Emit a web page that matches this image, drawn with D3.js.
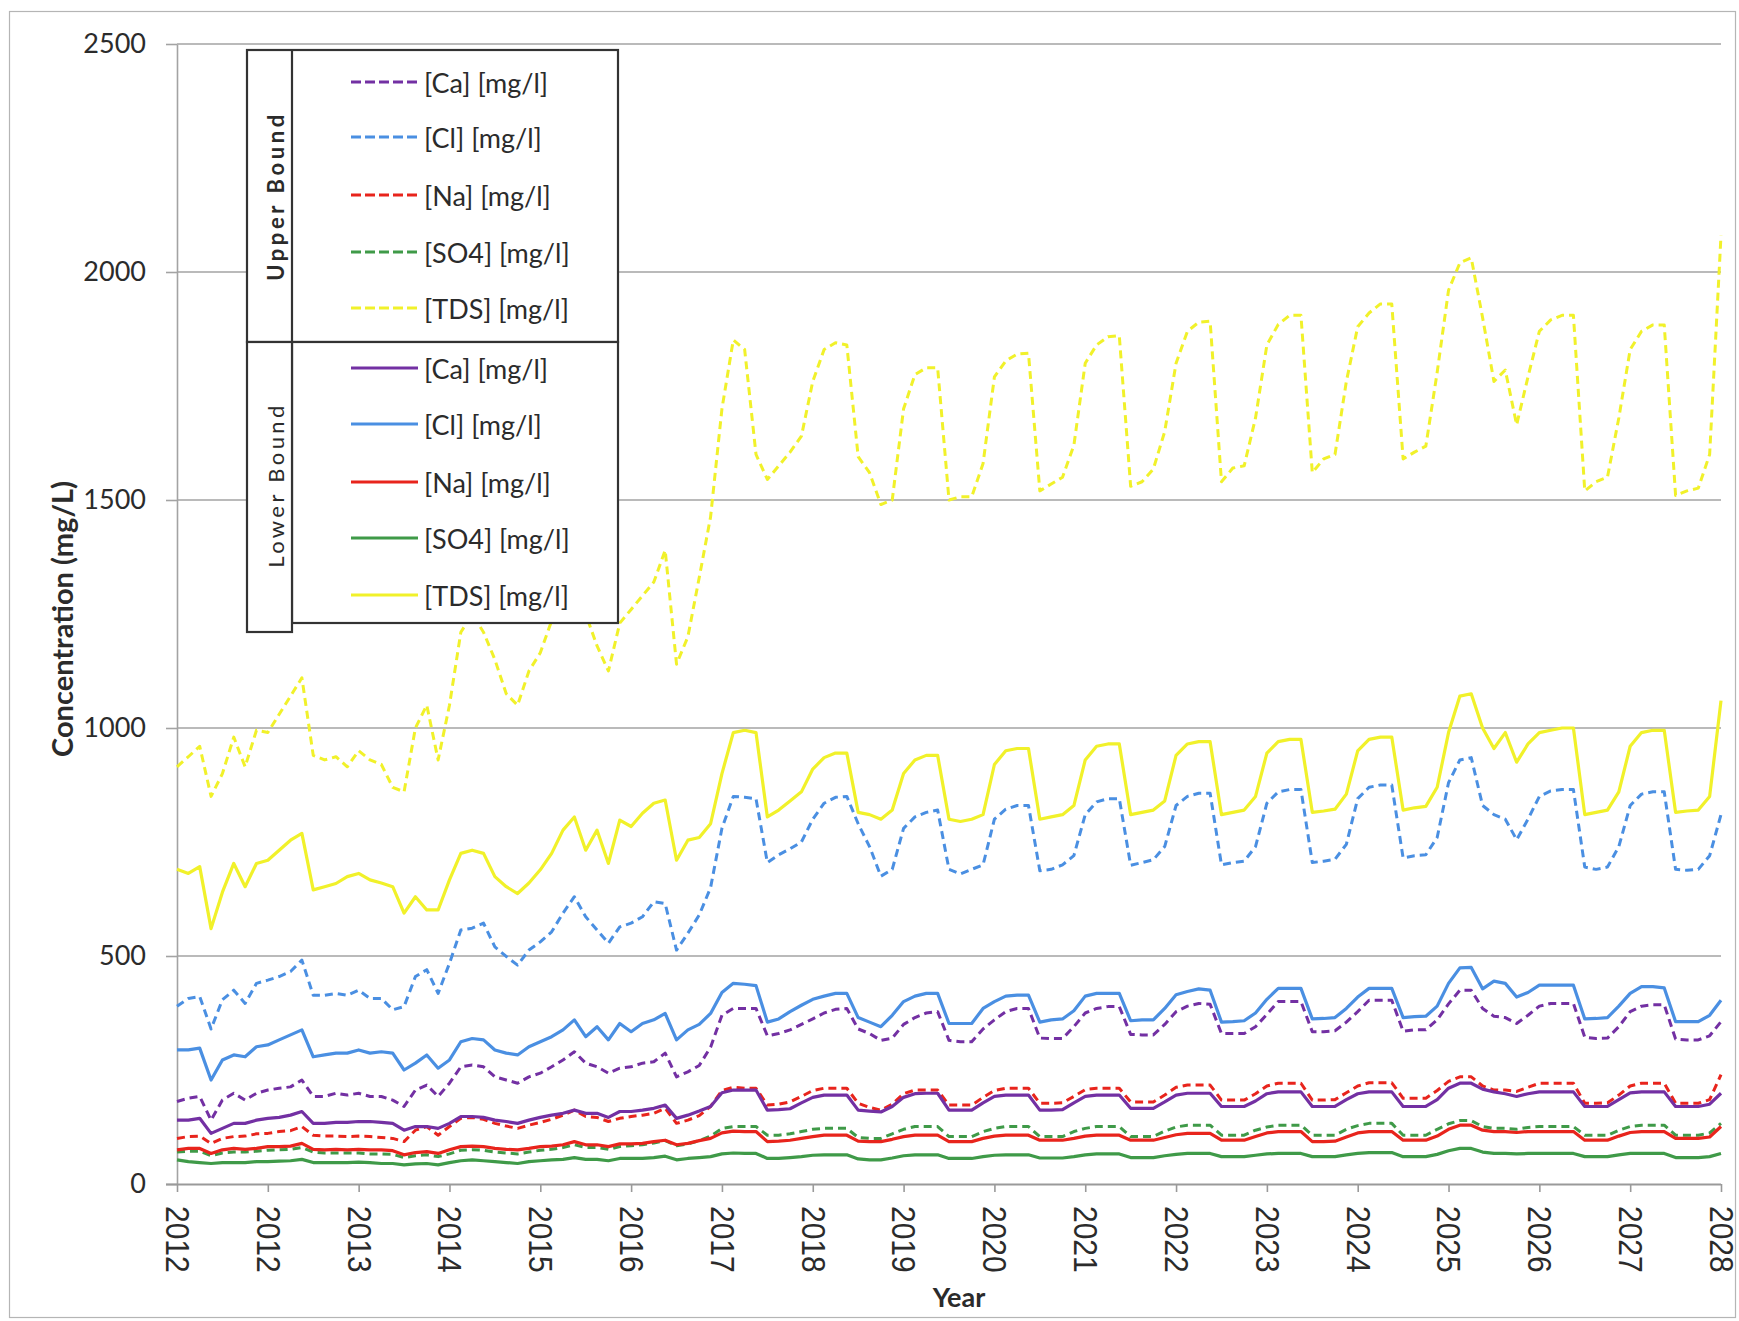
<!DOCTYPE html>
<html><head><meta charset="utf-8">
<script src="https://cdn.jsdelivr.net/npm/d3@7"></script>
<style>body{margin:0;background:#fff}svg{display:block}</style>
</head><body>
<svg id="c" width="1739" height="1321"></svg>
<script>
// ---- data ----
const tickLabels = ["2012","2012","2013","2014","2015","2016","2017","2018","2019","2020","2021","2022","2023","2024","2025","2026","2027","2028"];
const yTicks = [0, 500, 1000, 1500, 2000, 2500];
// sample positions in axis units (one unit per tick), 8 samples per unit
const t = d3.range(137).map(i => i / 8);

const tdsUpper = [
 915,937,960,850,900,980,915,995,
 990,1030,1070,1110,940,930,937,915,
 950,930,920,870,860,1000,1050,930,
 1050,1210,1250,1210,1150,1075,1050,1125,
 1165,1235,1260,1280,1250,1180,1125,1230,
 1260,1290,1320,1390,1140,1200,1330,1463,
 1700,1851,1830,1600,1545,1575,1605,1640,
 1760,1830,1845,1840,1595,1560,1490,1500,
 1700,1775,1790,1790,1500,1507,1507,1580,
 1770,1805,1820,1822,1520,1535,1550,1620,
 1800,1840,1858,1860,1530,1540,1568,1650,
 1800,1870,1890,1892,1540,1570,1575,1680,
 1840,1885,1905,1905,1560,1590,1600,1760,
 1880,1910,1930,1930,1590,1605,1618,1780,
 1960,2020,2031,1900,1760,1785,1665,1770,
 1870,1895,1905,1905,1520,1540,1550,1680,
 1830,1870,1884,1884,1510,1520,1526,1600,
 2080];
const tdsLower = [
 690,681,696,560,640,703,652,703,
 710,732,754,769,645,652,659,674,
 681,667,660,652,594,630,601,601,
 667,725,732,725,674,652,637,660,
 689,725,776,805,732,776,703,798,
 784,813,835,842,710,754,760,790,
 900,990,995,990,805,820,840,860,
 910,935,945,945,815,810,800,820,
 900,930,940,940,800,795,800,810,
 920,950,955,955,800,805,810,830,
 930,960,965,965,810,815,820,840,
 940,965,970,970,810,815,820,850,
 945,970,975,975,815,818,822,855,
 950,975,980,980,820,825,828,870,
 990,1070,1075,1000,955,990,925,965,
 990,995,1000,1000,810,815,820,860,
 960,990,995,995,815,818,820,850,
 1060];
const clUpper = [
 390,407,411,340,404,425,396,440,
 447,455,466,491,414,414,418,414,
 425,407,407,382,389,455,470,418,
 484,557,561,572,520,499,480,513,
 531,553,594,630,586,557,528,564,
 572,586,619,615,513,550,590,650,
 780,850,848,845,705,722,735,750,
 800,835,848,850,790,740,675,690,
 780,805,815,820,690,680,690,700,
 800,822,830,830,687,690,700,720,
 810,838,845,845,699,705,711,740,
 830,850,857,857,700,705,708,740,
 835,860,865,865,705,708,712,745,
 845,870,875,875,715,720,722,760,
 880,930,935,830,810,800,755,800,
 850,862,865,865,695,690,695,740,
 830,855,860,860,690,688,690,720,
 810];
const clLower = [
 294,294,298,228,272,283,279,301,
 305,316,327,338,279,283,287,287,
 294,287,290,287,250,265,283,254,
 272,312,319,316,294,287,283,301,
 312,323,338,360,323,345,316,352,
 334,352,360,374,316,338,350,374,
 420,440,438,435,355,362,378,392,
 405,412,418,418,365,355,345,370,
 400,412,418,418,352,352,352,385,
 400,412,414,414,355,360,362,380,
 412,418,418,418,358,360,360,385,
 415,422,428,425,355,356,358,375,
 405,429,429,429,362,363,365,385,
 410,429,429,429,365,367,368,390,
 440,474,475,428,445,440,410,420,
 436,436,436,436,362,363,365,390,
 418,433,433,430,356,356,356,370,
 403];
const caUpper = [
 181,188,192,140,184,199,184,199,
 206,210,213,228,192,192,199,195,
 199,192,192,184,170,206,217,192,
 221,257,261,257,235,228,221,235,
 243,257,272,290,265,257,243,254,
 257,265,268,287,235,246,260,300,
 370,385,385,385,325,330,338,350,
 362,375,383,385,340,330,315,320,
 350,365,375,378,315,312,312,340,
 360,378,385,385,320,319,319,345,
 375,385,389,389,328,327,327,350,
 378,390,396,394,330,330,330,345,
 372,400,400,400,334,334,336,355,
 378,403,403,403,335,338,338,360,
 395,425,425,385,368,365,352,370,
 390,396,396,396,322,319,320,345,
 378,390,393,393,318,316,316,325,
 356];
const caLower = [
 140,140,144,111,122,133,133,140,
 144,146,151,159,133,133,135,135,
 137,137,135,133,118,126,126,122,
 133,148,148,146,140,137,133,140,
 146,151,155,162,155,155,146,159,
 159,162,166,173,144,151,160,170,
 200,206,206,206,162,163,165,178,
 190,195,195,195,162,160,158,170,
 190,198,199,199,162,162,162,178,
 192,195,195,195,162,162,163,178,
 192,195,195,195,166,166,166,180,
 195,199,199,199,170,170,170,182,
 198,202,202,202,170,170,170,185,
 198,202,202,202,170,170,170,185,
 210,221,221,208,202,198,192,198,
 202,202,202,202,170,170,170,185,
 200,202,202,202,170,170,170,175,
 199];
const naUpper = [
 100,104,105,89,100,104,105,110,
 111,115,117,126,107,105,105,104,
 105,104,102,100,93,118,126,107,
 126,144,146,142,133,127,122,129,
 135,142,151,162,148,146,137,144,
 148,151,155,166,133,140,150,170,
 205,212,210,210,173,175,180,192,
 205,210,210,210,177,168,162,175,
 198,206,206,206,173,173,173,190,
 205,210,210,210,177,177,178,192,
 207,210,210,210,180,180,180,195,
 212,217,217,217,184,184,184,198,
 215,221,221,221,184,184,185,200,
 215,222,222,222,188,188,188,205,
 225,235,235,215,206,206,203,212,
 221,221,221,221,177,177,178,195,
 215,221,221,221,177,177,177,185,
 240];
const naLower = [
 75,78,78,67,75,78,76,78,
 82,82,83,89,76,75,76,75,
 76,75,75,73,64,69,71,67,
 75,82,83,82,78,76,75,78,
 82,83,86,93,86,86,82,88,
 88,89,93,96,86,89,95,100,
 112,116,115,115,93,94,96,100,
 104,107,107,107,94,93,93,98,
 104,107,107,107,93,93,93,100,
 105,107,107,107,96,96,96,100,
 105,107,107,107,96,96,96,102,
 108,111,111,111,96,96,96,104,
 112,115,115,115,93,93,94,103,
 112,115,115,115,96,96,96,105,
 120,129,129,118,115,115,113,115,
 115,115,115,115,96,96,96,105,
 113,115,115,115,100,100,100,103,
 126];
const so4Upper = [
 70,72,72,62,68,70,70,72,
 74,75,76,80,70,68,68,68,
 68,66,66,65,58,62,64,60,
 66,74,75,74,70,68,66,70,
 74,76,80,86,80,80,76,82,
 84,86,90,95,84,88,95,105,
 122,126,126,126,107,107,110,115,
 120,122,122,122,102,100,100,110,
 120,126,126,126,104,104,104,115,
 122,126,126,126,104,104,104,115,
 122,126,126,126,104,104,104,116,
 125,129,129,129,107,107,107,118,
 125,129,129,129,107,107,107,120,
 128,133,133,133,107,107,107,120,
 132,139,139,126,122,122,120,124,
 126,126,126,126,107,107,107,118,
 126,129,129,129,107,107,107,112,
 133];
const so4Lower = [
 53,49,47,45,47,47,47,49,
 49,50,51,54,47,47,47,47,
 48,47,45,45,42,44,45,42,
 47,51,53,51,49,47,45,49,
 51,53,54,58,54,54,51,56,
 56,56,58,61,53,56,58,60,
 66,68,67,67,56,56,58,60,
 63,64,64,64,55,53,53,57,
 62,64,64,64,56,56,56,60,
 63,64,64,64,57,57,57,60,
 64,66,66,66,58,58,58,62,
 65,67,67,67,60,60,60,63,
 66,67,67,67,60,60,60,64,
 67,69,69,69,60,60,60,65,
 73,78,78,70,67,67,66,67,
 67,67,67,67,60,60,60,64,
 67,67,67,67,58,58,58,60,
 67];

const speciesNames = ["[Ca] [mg/l]","[Cl] [mg/l]","[Na] [mg/l]","[SO4] [mg/l]","[TDS] [mg/l]"];
const speciesColors = ["#7330a3","#4a8fe2","#e8241c","#3f9a48","#f1f12a"];
const upperValues = [caUpper, clUpper, naUpper, so4Upper, tdsUpper];
const lowerValues = [caLower, clLower, naLower, so4Lower, tdsLower];

// ---- layout ----
const svg = d3.select("#c");
const X0 = 177, X1 = 1721, Y0 = 1184, Y1 = 44;
const x = d3.scaleLinear().domain([0, 17]).range([X0, X1]);
const y = d3.scaleLinear().domain([0, 2500]).range([Y0, Y1]);

svg.append("rect").attr("x",0).attr("y",0).attr("width",1739).attr("height",1321).attr("fill","#ffffff");
svg.append("rect").attr("x",9.5).attr("y",11.5).attr("width",1726).attr("height",1306)
  .attr("fill","none").attr("stroke","#b5b5b5").attr("stroke-width",1.2);

// gridlines
svg.append("g").selectAll("line").data(yTicks.filter(d => d > 0)).join("line")
  .attr("x1", X0).attr("x2", X1).attr("y1", d => y(d)).attr("y2", d => y(d))
  .attr("stroke", "#a3a3a3").attr("stroke-width", 1.6);

// y axis
const yAxis = svg.append("g").attr("transform", `translate(${X0},0)`)
  .call(d3.axisLeft(y).tickValues(yTicks).tickFormat(d3.format("d")).tickSize(11).tickSizeOuter(0).tickPadding(20));
yAxis.select(".domain").attr("stroke", "#a3a3a3").attr("stroke-width", 1.6);
yAxis.selectAll(".tick line").attr("stroke", "#a3a3a3").attr("stroke-width", 1.6);
yAxis.selectAll(".tick text").attr("font-family", "Lato, 'Open Sans', sans-serif")
  .attr("font-size", 27).attr("fill", "#2b2b2b");

// x axis
const xAxis = svg.append("g").attr("transform", `translate(0,${Y0})`)
  .call(d3.axisBottom(x).tickValues(d3.range(tickLabels.length)).tickFormat(i => tickLabels[i])
    .tickSize(8).tickSizeOuter(0));
xAxis.select(".domain").attr("stroke", "#9a9a9a").attr("stroke-width", 2.2)
  .attr("d", `M${X0 - 11},0.5H${X1}`);
xAxis.selectAll(".tick line").attr("stroke", "#9a9a9a").attr("stroke-width", 1.6);
xAxis.selectAll(".tick text")
  .attr("font-family", "'Liberation Sans', Arial, sans-serif").attr("font-size", 30).attr("fill", "#2b2b2b")
  .attr("transform", "translate(0,22) rotate(90) scale(1,1.12)").attr("x", 0).attr("y", 0).attr("dy", 0)
  .attr("text-anchor", "start").attr("dominant-baseline", "central");

// axis titles
svg.append("text").attr("transform", "translate(61,619) rotate(-90)")
  .attr("text-anchor", "middle").attr("dominant-baseline", "central")
  .attr("font-family", "Lato, 'Open Sans', sans-serif").attr("font-weight", 700)
  .attr("font-size", 29).attr("fill", "#2b2b2b").text("Concentration (mg/L)");
svg.append("text").attr("x", 959).attr("y", 1296)
  .attr("text-anchor", "middle").attr("dominant-baseline", "central")
  .attr("font-family", "Lato, 'Open Sans', sans-serif").attr("font-weight", 700)
  .attr("font-size", 27).attr("fill", "#2b2b2b").text("Year");

// series lines
const line = d3.line().x((d, i) => x(t[i])).y(d => y(d));
const gLines = svg.append("g").attr("fill", "none").attr("stroke-linejoin", "round");
upperValues.forEach((vals, k) => {
  gLines.append("path").datum(vals).attr("d", line)
    .attr("stroke", speciesColors[k]).attr("stroke-width", 3)
    .attr("stroke-dasharray", "8,5");
});
lowerValues.forEach((vals, k) => {
  gLines.append("path").datum(vals).attr("d", line)
    .attr("stroke", speciesColors[k]).attr("stroke-width", 3.2);
});

// legend
const lg = svg.append("g");
const LX0 = 247, LXD = 292, LX1 = 618, LY0 = 50, LYM = 342, LY1 = 623, LY2 = 632;
lg.append("rect").attr("x", LX0).attr("y", LY0).attr("width", LX1 - LX0).attr("height", LYM - LY0)
  .attr("fill", "#fff").attr("stroke", "#333").attr("stroke-width", 2.2);
lg.append("rect").attr("x", LXD).attr("y", LYM).attr("width", LX1 - LXD).attr("height", LY1 - LYM)
  .attr("fill", "#fff").attr("stroke", "#333").attr("stroke-width", 2.2);
lg.append("rect").attr("x", LX0).attr("y", LYM).attr("width", LXD - LX0).attr("height", LY2 - LYM)
  .attr("fill", "#fff").attr("stroke", "#333").attr("stroke-width", 2.2);
lg.append("line").attr("x1", LXD).attr("x2", LXD).attr("y1", LY0).attr("y2", LYM)
  .attr("stroke", "#333").attr("stroke-width", 2.2);

lg.append("text").attr("transform", "translate(275,196) rotate(-90)")
  .attr("text-anchor", "middle").attr("dominant-baseline", "central")
  .attr("font-family", "Lato, 'Open Sans', sans-serif").attr("font-weight", 700)
  .attr("letter-spacing", 3.6).attr("font-size", 22).attr("fill", "#2b2b2b").text("Upper Bound");
lg.append("text").attr("transform", "translate(275,485) rotate(-90)")
  .attr("text-anchor", "middle").attr("dominant-baseline", "central")
  .attr("font-family", "Lato, 'Open Sans', sans-serif").attr("font-weight", 400)
  .attr("letter-spacing", 3.4).attr("font-size", 22).attr("fill", "#2b2b2b").text("Lower Bound");

const upperY = [82, 137, 195, 252, 308];
const lowerY = [368, 424, 482, 538, 595];
speciesNames.forEach((name, k) => {
  [[upperY[k], true], [lowerY[k], false]].forEach(([yy, dashed]) => {
    lg.append("line").attr("x1", 351).attr("x2", 418).attr("y1", yy).attr("y2", yy)
      .attr("stroke", speciesColors[k]).attr("stroke-width", 3.2)
      .attr("stroke-dasharray", dashed ? "10,4" : null);
    lg.append("text").attr("x", 424).attr("y", yy).attr("dominant-baseline", "central")
      .attr("font-family", "Lato, 'Open Sans', sans-serif").attr("font-size", 27)
      .attr("fill", "#2b2b2b").text(name);
  });
});
</script>
</body></html>
